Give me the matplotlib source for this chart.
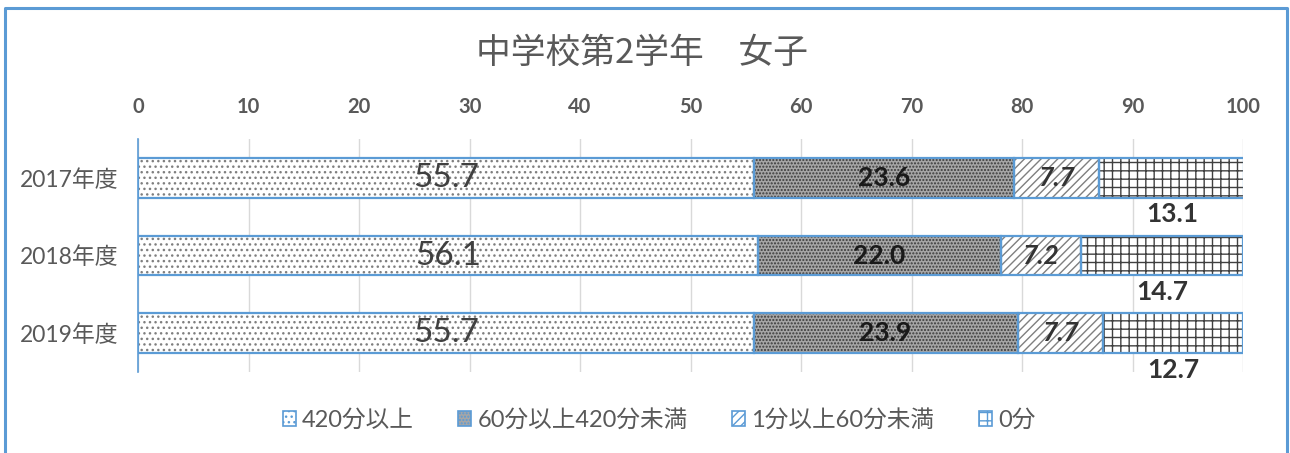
import matplotlib
matplotlib.use("Agg")
import matplotlib.pyplot as plt
from matplotlib.patches import Patch
from matplotlib.lines import Line2D

plt.rcParams['font.family'] = ['Lato', 'Noto Sans CJK JP', 'DejaVu Sans']
plt.rcParams['hatch.linewidth'] = 1.0

# データ
years = ['2017年度', '2018年度', '2019年度']
cats = ['420分以上', '60分以上420分未満', '1分以上60分未満', '0分']
v420 = [55.7, 56.1, 55.7]
v60 = [23.6, 22.0, 23.9]
v1 = [7.7, 7.2, 7.7]
v0 = [13.1, 14.7, 12.7]
series = [v420, v60, v1, v0]

# 見た目
faces = ['white', '#a6a6a6', 'white', 'white']
hatches = ['...', '.....', '////', '++']
hcols = ['#7f7f7f', '#3a3a3a', '#7f7f7f', '#404040']
blue = '#5B9BD5'
gray = '#595959'

fig = plt.figure(figsize=(12.9, 4.53), dpi=100)
ax = fig.add_axes([0.107, 0.1788, 0.8566, 0.5143])

ypos = list(range(len(years)))
left = [0.0] * len(years)
h = 0.51
for i, vals in enumerate(series):
    ax.barh(ypos, vals, height=h, left=left, color=faces[i], hatch=hatches[i],
            edgecolor=hcols[i], linewidth=0, zorder=2)
    ax.barh(ypos, vals, height=h, left=left, fill=False, edgecolor=blue,
            linewidth=1.6, zorder=3)
    for j, v in enumerate(vals):
        cx = left[j] + v / 2
        if i == 0:
            ax.text(cx, j, f'{v:.1f}', ha='center', va='center', fontsize=24,
                    color='#404040', zorder=4)
        elif i == 1:
            ax.text(cx, j, f'{v:.1f}', ha='center', va='center', fontsize=19,
                    fontweight='bold', color='#1a1a1a', zorder=4)
        elif i == 2:
            ax.text(cx, j, f'{v:.1f}', ha='center', va='center', fontsize=19,
                    fontweight='bold', fontstyle='italic', color='#333333', zorder=4)
        else:
            ax.text(cx, j + 0.47, f'{v:.1f}', ha='center', va='center', fontsize=19,
                    fontweight='bold', color='#333333', zorder=4)
    left = [a + b for a, b in zip(left, vals)]

ax.set_xlim(0, 100)
ax.set_ylim(len(years) - 0.5, -0.5)
ax.set_xticks(range(0, 101, 10))
ax.set_yticks(ypos)
ax.set_yticklabels(years, fontsize=16.5, color=gray)
ax.xaxis.tick_top()
ax.tick_params(axis='x', labelsize=14.5, colors=gray, length=0, pad=16)
ax.tick_params(axis='y', length=0, pad=14)
for lab in ax.get_xticklabels():
    lab.set_fontweight('bold')
ax.grid(axis='x', color='#d9d9d9', linewidth=1, zorder=0)
ax.set_axisbelow(True)
for s in ['top', 'right', 'bottom']:
    ax.spines[s].set_visible(False)
ax.spines['left'].set_color(blue)
ax.spines['left'].set_linewidth(1.2)

fig.text(0.498, 0.882, '中学校第2学年\u3000女子', ha='center', va='center',
         fontsize=25, color=gray, family=['Noto Sans CJK JP', 'DejaVu Sans'])

handles = [Patch(facecolor=faces[i], hatch=hatches[i], edgecolor=blue, linewidth=1.2)
           for i in range(4)]
leg = fig.legend(handles, cats, loc='center', bbox_to_anchor=(0.511, 0.073), ncol=4,
                 frameon=False, fontsize=17, handlelength=0.55, handleheight=0.55,
                 handletextpad=0.25, columnspacing=1.9)
for t in leg.get_texts():
    t.set_color(gray)

# 外枠
W, H = 1290, 453
fig.add_artist(Line2D([5 / W, 5 / W, 1287 / W, 1287 / W], [0, 1 - 8 / H, 1 - 8 / H, 0],
                      transform=fig.transFigure, color=blue, linewidth=2.2))

fig.savefig('out.png', dpi=100)
